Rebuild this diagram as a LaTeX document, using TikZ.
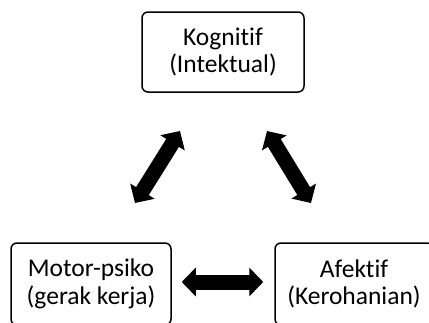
\documentclass[tikz,border=0pt]{standalone}
\usepackage{fontspec}
\setmainfont{Carlito}[Ligatures={NoCommon}]
\usetikzlibrary{arrows.meta}
\tikzset{
  box/.style={draw=black, line width=1.5pt, rounded corners=6pt, inner sep=0pt,
    align=center, font=\fontsize{25.5}{27.5}\selectfont},
  dbl/.style={line width=15pt, {Triangle[length=14pt,width=28pt]}-{Triangle[length=14pt,width=28pt]}}
}
\begin{document}
\begin{tikzpicture}[x=1pt,y=-1pt]
\useasboundingbox (0,0) rectangle (429,322);
\node[box, minimum width=162pt, minimum height=80pt] (kog) at (223,52) {Kognitif\\(Intektual)};
\node[box, minimum width=160pt, minimum height=82pt] (mot) at (91,284) {Motor-psiko\\(gerak kerja)};
\node[box, minimum width=158pt, minimum height=82pt] (afe) at (354,284) {Afektif\\(Kerohanian)};
\coordinate (l1) at (180,131);
\coordinate (l2) at (135,203);
\coordinate (r1) at (267,131);
\coordinate (r2) at (311,203);
\draw[dbl] (l1) -- (l2);
\draw[dbl] (r1) -- (r2);
\draw[dbl, shorten <=10pt, shorten >=11pt] (mot.east |- 0,282) -- (afe.west |- 0,282);
\end{tikzpicture}
\end{document}
